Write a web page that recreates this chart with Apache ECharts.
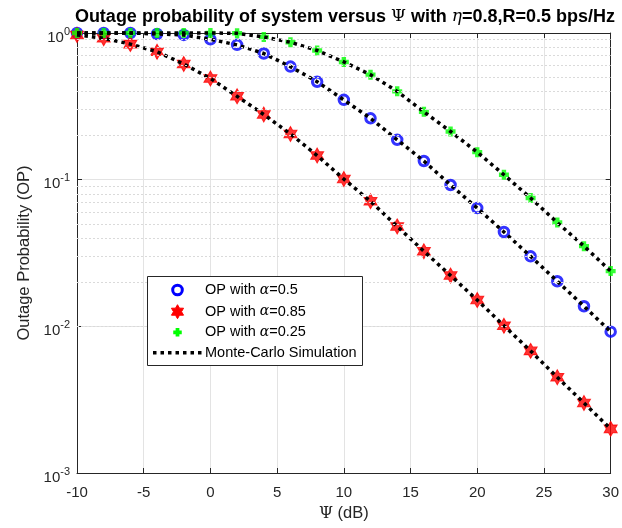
<!DOCTYPE html>
<html>
<head>
<meta charset="utf-8">
<script src="https://cdn.jsdelivr.net/npm/echarts@6/dist/echarts.min.js"></script>
<style>html,body{margin:0;padding:0;background:#fff}#c{width:622px;height:528px}</style>
</head>
<body>
<div id="c"></div>
<script>
// ---- data ----
var psi = [-10, -8, -6, -4, -2, 0, 2, 4, 6, 8, 10, 12, 14, 16, 18, 20, 22, 24, 26, 28, 30];
var opAlpha05 = [1, 1, 1, 0.985, 0.97, 0.905, 0.83, 0.725, 0.59, 0.465, 0.35, 0.262, 0.187, 0.134, 0.092, 0.064, 0.044, 0.030, 0.0203, 0.0137, 0.0092];
var opAlpha085 = [0.97, 0.92, 0.84, 0.745, 0.615, 0.49, 0.37, 0.278, 0.205, 0.146, 0.101, 0.0712, 0.048, 0.0325, 0.0222, 0.0151, 0.0101, 0.0068, 0.0045, 0.003, 0.002];
var opAlpha025 = [1, 1, 1, 1, 1, 1, 0.995, 0.94, 0.865, 0.76, 0.635, 0.52, 0.40, 0.29, 0.213, 0.154, 0.108, 0.075, 0.051, 0.0352, 0.0238];
var xTicks = [-10, -5, 0, 5, 10, 15, 20, 25, 30];
var yDecades = [0.001, 0.01, 0.1, 1];
var legendNames = ['OP with α=0.5', 'OP with α=0.85', 'OP with α=0.25', 'Monte-Carlo Simulation'];

function pairs(ys) { return psi.map(function (x, i) { return [x, ys[i]]; }); }

// minor (2..9) horizontal grid values per decade
var minorVals = [];
for (var d = 0; d < yDecades.length - 1; d++) {
  for (var m = 2; m <= 9; m++) minorVals.push(+(yDecades[d] * m).toPrecision(3));
}

var FONT = 'Liberation Sans';
var AX = '#262626';
var STAR_PTS = [[0,-10],[2.887,-5],[8.66,-5],[5.774,0],[8.66,5],[2.887,5],[0,10],[-2.887,5],[-8.66,5],[-5.774,0],[-8.66,-5],[-2.887,-5]];
var PLUS_PTS = [[-2.2,-5],[2.2,-5],[2.2,-2.2],[5,-2.2],[5,2.2],[2.2,2.2],[2.2,5],[-2.2,5],[-2.2,2.2],[-5,2.2],[-5,-2.2],[-2.2,-2.2]];
function toPath(pts) { return 'path://' + pts.map(function (p, i) { return (i ? 'L' : 'M') + p[0] + ',' + p[1]; }).join(' ') + ' Z'; }
function place(pts, cx, cy, sx, sy) { return pts.map(function (p) { return [cx + p[0] * sx, cy + p[1] * sy]; }); }
var STAR = toPath(STAR_PTS);
var PLUS = toPath(PLUS_PTS);
var BLUE = '#0000ff', RED = '#ff0000', GREEN = '#00ff00';
var dotted = [3.5, 4];

var chart = echarts.init(document.getElementById('c'), null, { renderer: 'canvas' });

var greekRich = { g: { fontFamily: 'DejaVu Serif', fontSize: 14, fontStyle: 'italic', fill: '#000' } };
var legendTop = 276, legendLeft = 147;

var option = {
  animation: false,
  backgroundColor: '#fff',
  title: {
    text: 'Outage probability of system versus {g|Ψ} with {e|η}=0.8,R=0.5 bps/Hz',
    left: 340, textAlign: 'center', top: 3,
    textStyle: {
      fontFamily: FONT, fontWeight: 'bold', fontSize: 18, color: '#000',
      rich: {
        g: { fontFamily: 'DejaVu Serif', fontWeight: 'normal', fontSize: 17, color: '#000' },
        e: { fontFamily: 'DejaVu Serif', fontStyle: 'italic', fontWeight: 'normal', fontSize: 17, color: '#000' }
      }
    }
  },
  grid: { left: 77, right: 9, top: 33, bottom: 55, containLabel: false },
  xAxis: [{
    type: 'value', min: -10, max: 30, interval: 5,
    name: '{g|Ψ} (dB)', nameLocation: 'middle', nameGap: 32,
    nameTextStyle: { fontFamily: FONT, fontSize: 16.5, color: AX,
      rich: { g: { fontFamily: 'DejaVu Serif', fontSize: 16, color: AX } } },
    axisLine: { show: true, onZero: false, lineStyle: { color: AX, width: 1 } },
    axisTick: { show: true, inside: true, length: 5, lineStyle: { color: AX } },
    axisLabel: { fontFamily: FONT, fontSize: 15, color: AX, margin: 12 },
    splitLine: { show: true, lineStyle: { color: '#e3e3e3', width: 1 } }
  }, {
    type: 'value', min: -10, max: 30, interval: 5, position: 'top',
    axisLine: { show: true, onZero: false, lineStyle: { color: AX, width: 1 } },
    axisTick: { show: true, inside: true, length: 5, lineStyle: { color: AX } },
    axisLabel: { show: false }, splitLine: { show: false }
  }],
  yAxis: [{
    type: 'log', logBase: 10, min: 0.001, max: 1,
    name: 'Outage Probability (OP)', nameLocation: 'middle', nameGap: 44,
    nameTextStyle: { fontFamily: FONT, fontSize: 16.5, color: AX },
    axisLine: { show: true, onZero: false, lineStyle: { color: AX, width: 1 } },
    axisTick: { show: true, inside: true, length: 5, lineStyle: { color: AX } },
    axisLabel: {
      margin: 7,
      formatter: function (v) { return '{b|10}{s|' + Math.round(Math.log10(v)) + '}'; },
      rich: {
        b: { fontFamily: FONT, fontSize: 15, color: AX, padding: [9, 0, 0, 0] },
        s: { fontFamily: FONT, fontSize: 11, color: AX, padding: [0, 0, 3, 0] }
      }
    },
    splitLine: { show: true, lineStyle: { color: '#e3e3e3', width: 1 } }
  }, {
    type: 'log', logBase: 10, min: 0.001, max: 1, position: 'right',
    axisLine: { show: true, onZero: false, lineStyle: { color: AX, width: 1 } },
    axisTick: { show: true, inside: true, length: 5, lineStyle: { color: AX } },
    axisLabel: { show: false }, splitLine: { show: false }
  }],
  graphic: [
    { type: 'rect', z: 100, shape: { x: legendLeft + 0.5, y: legendTop + 0.5, width: 215, height: 89 }, style: { fill: '#fff', stroke: AX, lineWidth: 1 } },
    { type: 'circle', z: 101, shape: { cx: legendLeft + 30.5, cy: legendTop + 14, r: 4.8 }, style: { fill: 'none', stroke: BLUE, lineWidth: 3 } },
    { type: 'polygon', z: 101, shape: { points: place(STAR_PTS, legendLeft + 30.5, legendTop + 35.7, 0.7, 0.7) }, style: { fill: RED, stroke: RED, lineWidth: 1 } },
    { type: 'polygon', z: 101, shape: { points: place(PLUS_PTS, legendLeft + 30.5, legendTop + 56.3, 0.85, 0.85) }, style: { fill: GREEN } },
    { type: 'line', z: 101, shape: { x1: legendLeft + 6, y1: legendTop + 76.7, x2: legendLeft + 55, y2: legendTop + 76.7 }, style: { stroke: '#000', lineWidth: 3.5, lineDash: dotted } },
    { type: 'text', z: 101, x: legendLeft + 58, y: legendTop + 14, style: { text: 'OP with {g|α}=0.5', font: '14.5px "Liberation Sans"', fill: '#000', verticalAlign: 'middle', rich: greekRich } },
    { type: 'text', z: 101, x: legendLeft + 58, y: legendTop + 35.7, style: { text: 'OP with {g|α}=0.85', font: '14.5px "Liberation Sans"', fill: '#000', verticalAlign: 'middle', rich: greekRich } },
    { type: 'text', z: 101, x: legendLeft + 58, y: legendTop + 56.3, style: { text: 'OP with {g|α}=0.25', font: '14.5px "Liberation Sans"', fill: '#000', verticalAlign: 'middle', rich: greekRich } },
    { type: 'text', z: 101, x: legendLeft + 58, y: legendTop + 76.7, style: { text: legendNames[3], font: '14.5px "Liberation Sans"', fill: '#000', verticalAlign: 'middle' } }
  ],
  series: [
    {
      name: legendNames[0], type: 'scatter', data: pairs(opAlpha05), clip: false, z: 2,
      symbol: 'circle', symbolSize: 9.5,
      itemStyle: { color: 'rgba(0,0,0,0)', borderColor: BLUE, borderWidth: 3 },
      markLine: {
        silent: true, symbol: 'none', label: { show: false }, animation: false,
        lineStyle: { color: '#dadada', width: 1, type: [2, 2] },
        data: minorVals.map(function (v) { return { yAxis: v }; })
      }
    },
    {
      name: legendNames[1], type: 'scatter', data: pairs(opAlpha085), clip: false, z: 2,
      symbol: STAR, symbolSize: [13, 15], symbolKeepAspect: false,
      itemStyle: { color: RED, borderColor: RED, borderWidth: 1 }
    },
    {
      name: legendNames[2], type: 'scatter', data: pairs(opAlpha025), clip: false, z: 2,
      symbol: PLUS, symbolSize: 10,
      itemStyle: { color: GREEN }
    },
    {
      name: legendNames[3], type: 'line', data: pairs(opAlpha05), clip: false, z: 3,
      showSymbol: false, symbol: 'none', lineStyle: { color: '#000', width: 3.5, type: dotted, cap: 'butt' }
    },
    {
      name: legendNames[3], type: 'line', data: pairs(opAlpha085), clip: false, z: 3,
      showSymbol: false, symbol: 'none', lineStyle: { color: '#000', width: 3.5, type: dotted, cap: 'butt' }
    },
    {
      name: legendNames[3], type: 'line', data: pairs(opAlpha025), clip: false, z: 3,
      showSymbol: false, symbol: 'none', lineStyle: { color: '#000', width: 3.5, type: dotted, cap: 'butt' }
    }
  ]
};
chart.setOption(option);
</script>
</body>
</html>
